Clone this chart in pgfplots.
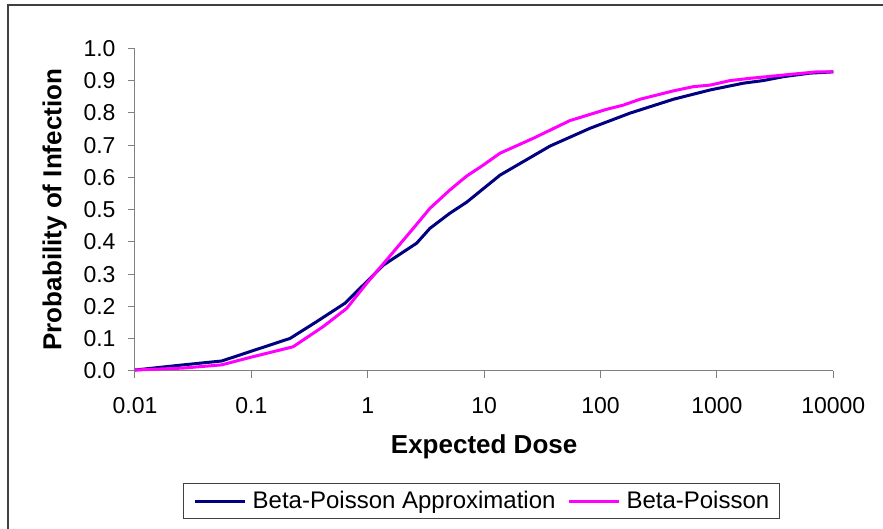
\documentclass[border=0pt]{standalone}
\usepackage{pgfplots}
\pgfplotsset{compat=1.18}
\usepackage{fontspec}
\setmainfont{Liberation Sans}

\definecolor{approx}{HTML}{000080}
\definecolor{exact}{HTML}{FF00FF}
\definecolor{axisgray}{HTML}{808080}
\definecolor{framegray}{HTML}{404040}

% Beta-Poisson approximation: expected dose vs probability of infection
\pgfplotstableread{
dose    p
0.01    0.003
0.026   0.019
0.0556  0.031
0.0973  0.060
0.215   0.101
0.364   0.153
0.637   0.210
0.914   0.266
1.36    0.328
2.63    0.396
3.42    0.442
5.08    0.489
7.07    0.523
13.7    0.607
36.8    0.697
81.1    0.752
179     0.799
422     0.842
877     0.871
1694    0.892
2500    0.900
3715    0.912
6295    0.923
10000   0.927
}\approxtable

% Exact Beta-Poisson
\pgfplotstableread{
dose    p
0.01    0.003
0.0258  0.009
0.0556  0.019
0.0973  0.042
0.228   0.075
0.412   0.137
0.659   0.194
0.98    0.272
1.45    0.344
2.46    0.442
3.42    0.504
5.08    0.561
7.07    0.604
9.82    0.638
13.7    0.675
26.4    0.721
54.6    0.776
113     0.811
157     0.824
218     0.842
422     0.868
625     0.881
877     0.886
1300    0.900
1932    0.907
3715    0.917
7200    0.927
10000   0.927
}\exacttable

\begin{document}
\begin{tikzpicture}[x=1pt,y=1pt]
\useasboundingbox (0,0) rectangle (883,529);
\draw[framegray, line width=1.6pt] (8,-20) -- (8,524) -- (900,524);
\begin{axis}[
  at={(135pt,158pt)}, anchor=south west,
  scale only axis, width=698.3pt, height=322.7pt,
  xmode=log, xmin=0.01, xmax=10000, ymin=0, ymax=1,
  clip=false,
  axis x line*=bottom, axis y line*=left,
  axis line style={axisgray, line width=1pt},
  tick style={axisgray, line width=1pt},
  tick align=outside, major tick length=7pt,
  xminorticks=false,
  xtick={0.01,0.1,1,10,100,1000,10000},
  xticklabels={0.01,0.1,1,10,100,1000,10000},
  ytick={0,0.1,0.2,0.3,0.4,0.5,0.6,0.7,0.8,0.9,1.0},
  tick label style={font=\fontsize{23}{27}\selectfont, text=black},
  yticklabel style={xshift=-9pt, /pgf/number format/.cd, fixed, fixed zerofill, precision=1, assume math mode=true},
  xticklabel style={yshift=-16pt},
  xlabel={\textbf{Expected Dose}},
  ylabel={\textbf{Probability of Infection}},
  every axis x label/.style={at={(axis description cs:0.5,-0.234)}, anchor=center, font=\fontsize{26}{30}\selectfont},
  every axis y label/.style={at={(axis description cs:-0.1151,0.5)}, anchor=center, rotate=90, font=\fontsize{26}{30}\selectfont},
  legend columns=2,
  legend cell align=left,
  legend image code/.code={\draw[#1] (0pt,0pt) -- (50pt,0pt);},
  legend style={at={(axis description cs:0.4962,-0.4029)}, anchor=center,
    draw=framegray, line width=0.8pt, font=\fontsize{24}{28}\selectfont,
    inner xsep=10pt, inner ysep=8pt,
    nodes={inner sep=0pt},
    /tikz/every odd column/.append style={column sep=6pt},
    /tikz/every even column/.append style={column sep=12pt}},
]
\addplot[approx, line width=3pt, line join=round] table[x=dose, y=p] {\approxtable};
\addlegendentry{Beta-Poisson Approximation}
\addplot[exact, line width=3pt, line join=round] table[x=dose, y=p] {\exacttable};
\addlegendentry{Beta-Poisson}
\end{axis}
\end{tikzpicture}
\end{document}
